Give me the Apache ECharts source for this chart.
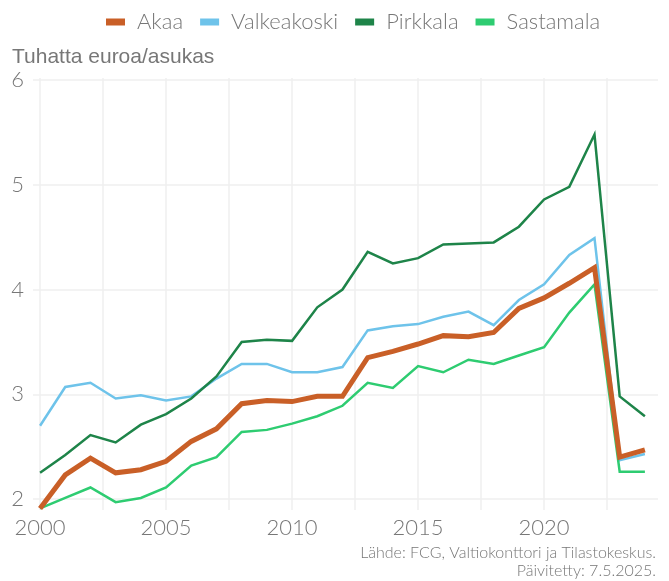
<!DOCTYPE html>
<html>
<head>
<meta charset="utf-8">
<script src="https://cdn.jsdelivr.net/npm/echarts@6/dist/echarts.min.js"></script>
<style>
  html, body { margin: 0; padding: 0; background: #fff; }
  #chart { width: 669px; height: 581px; }
</style>
</head>
<body>
<div id="chart"></div>
<script>
// vuodet ja sarjat
const years = [2000, 2001, 2002, 2003, 2004, 2005, 2006, 2007, 2008, 2009, 2010, 2011, 2012,
  2013, 2014, 2015, 2016, 2017, 2018, 2019, 2020, 2021, 2022, 2023, 2024]
const akaa = [1.91, 2.23, 2.39, 2.25, 2.28, 2.36, 2.55, 2.67, 2.91, 2.94, 2.93, 2.98, 2.98,
  3.35, 3.41, 3.48, 3.56, 3.55, 3.59, 3.82, 3.92, 4.06, 4.21, 2.40, 2.47]
const valkeakoski = [2.70, 3.07, 3.11, 2.96, 2.99, 2.94, 2.98, 3.15, 3.29, 3.29, 3.21, 3.21, 3.26,
  3.61, 3.65, 3.67, 3.74, 3.79, 3.66, 3.90, 4.05, 4.33, 4.49, 2.37, 2.43]
const pirkkala = [2.25, 2.42, 2.61, 2.54, 2.71, 2.81, 2.96, 3.17, 3.50, 3.52, 3.51, 3.83, 4.00,
  4.36, 4.25, 4.30, 4.43, 4.44, 4.45, 4.60, 4.86, 4.98, 5.48, 2.98, 2.79]
const sastamala = [1.91, 2.01, 2.11, 1.97, 2.01, 2.11, 2.32, 2.40, 2.64, 2.66, 2.72, 2.79, 2.89,
  3.11, 3.06, 3.27, 3.21, 3.33, 3.29, 3.37, 3.45, 3.78, 4.05, 2.26, 2.26]

const xTicks = [2000, 2002.5, 2005, 2007.5, 2010, 2012.5, 2015, 2017.5, 2020, 2022.5]
const xLabels = [2000, 2005, 2010, 2015, 2020]
const yTicks = [2, 3, 4, 5, 6]

const textColor = '#777'
const gridColor = '#efefef'

function pairs(vals) {
  return years.map(function(y, i) { return [y, vals[i]] })
}

function line(name, vals, color, width) {
  return {
    name: name,
    type: 'line',
    data: pairs(vals),
    showSymbol: false,
    symbol: 'none',
    lineStyle: { color: color, width: width, join: 'miter', cap: 'butt' },
    itemStyle: { color: color },
    z: name === 'Akaa' ? 3 : 2
  }
}

const chart = echarts.init(document.getElementById('chart'))
chart.setOption({
  animation: false,
  textStyle: { fontFamily: 'Lato' },
  legend: {
    top: 6,
    left: 101,
    itemWidth: 19,
    itemHeight: 7,
    itemGap: 17,
    icon: 'rect',
    textStyle: { fontSize: 22, fontWeight: 300, color: textColor, fontFamily: 'Lato', padding: [0, 0, 0, 7] },
    data: ['Akaa', 'Valkeakoski', 'Pirkkala', 'Sastamala']
  },
  graphic: [
    {
      type: 'text', left: 12, top: 47,
      style: { text: 'Tuhatta euroa/asukas', fontSize: 21, fill: textColor, fontFamily: 'Liberation Sans' }
    },
    {
      type: 'text', right: 13, top: 545,
      style: { text: 'Lähde: FCG, Valtiokonttori ja Tilastokeskus.', fontSize: 16, fontWeight: 300,
        fill: textColor, fontFamily: 'Lato' }
    },
    {
      type: 'text', right: 13, top: 563,
      style: { text: 'Päivitetty: 7.5.2025.', fontSize: 16, fontWeight: 300,
        fill: textColor, fontFamily: 'Lato' }
    }
  ],
  grid: { left: 33, right: 11, top: 78, bottom: 71, containLabel: false },
  xAxis: {
    type: 'value',
    min: 1999.72,
    max: 2024.52,
    axisLine: { show: false },
    axisTick: { show: false, customValues: xTicks },
    axisLabel: {
      customValues: xLabels,
      fontSize: 22, fontWeight: 300, color: textColor, margin: 7,
      formatter: function(v) { return String(v) }
    },
    splitLine: { show: true, lineStyle: { color: gridColor, width: 1.5 } }
  },
  yAxis: {
    type: 'value',
    min: 1.895,
    max: 6.02,
    axisLine: { show: false },
    axisTick: { show: false, customValues: yTicks },
    axisLabel: { customValues: yTicks, fontSize: 22, fontWeight: 300, color: textColor, margin: 9 },
    splitLine: { show: true, lineStyle: { color: gridColor, width: 1.5 } }
  },
  series: [
    line('Akaa', akaa, '#c95f27', 5),
    line('Valkeakoski', valkeakoski, '#6ec3ea', 2.5),
    line('Pirkkala', pirkkala, '#1e8449', 2.5),
    line('Sastamala', sastamala, '#2ecc71', 2.5)
  ]
})
</script>
</body>
</html>
